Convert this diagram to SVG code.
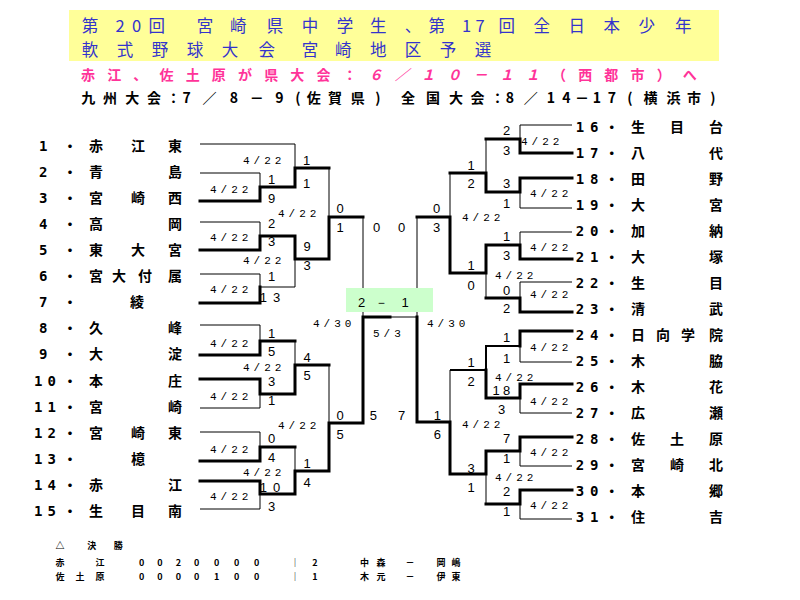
<svg xmlns="http://www.w3.org/2000/svg" width="800" height="600" viewBox="0 0 800 600">
<style>
.th{fill:none;stroke:#000;stroke-width:1}
.md{fill:none;stroke:#000;stroke-width:2}
.tk{fill:none;stroke:#000;stroke-width:3;stroke-linecap:square}
.nm{font-family:"Noto Sans CJK JP",sans-serif;font-size:14px;font-weight:bold;text-anchor:middle;fill:#000}
.no{font-family:"DejaVu Sans Mono",monospace;font-size:14px;font-weight:bold;text-anchor:middle;fill:#000}
.sc{font-family:"Liberation Sans",sans-serif;font-size:13px;text-anchor:middle;fill:#000}
.dt{font-family:"Liberation Mono",monospace;font-size:11px;letter-spacing:4px;fill:#000}
.ti{font-family:"Noto Sans CJK JP",sans-serif;font-size:16.5px;text-anchor:middle;fill:#3333cc}
.pk{font-family:"Noto Sans CJK JP",sans-serif;font-size:14px;font-weight:bold;text-anchor:middle;fill:#ff3399}
.bk{font-family:"Noto Sans CJK JP",sans-serif;font-size:14px;font-weight:bold;text-anchor:middle;fill:#000}
.sm{font-family:"Noto Sans CJK JP",sans-serif;font-size:9px;font-weight:bold;text-anchor:middle;fill:#000}
</style>
<rect width="800" height="600" fill="#fff"/>
<g id="header">
<rect x="69" y="10" width="650" height="51" fill="#ffff99"/>
<text class="ti" x="90 120 136.7 156.7 180 205 238.3 275 310 345 378.3 413 436.7 466.7 480 506.7 541.7 576.7 611.7 646.7 683.3" y="31.5">第20回 宮崎県中学生、第17回全日本少年</text>
<text class="ti" x="90 125 160 195 230 266.7 288 310 343.3 378.3 413 448 483" y="55.5">軟式野球大会 宮崎地区予選</text>
<text class="pk" x="88 114.2 140.3 166.5 192.7 218.8 245 271.2 297.3 323.5 349.7" y="80">赤江、佐土原が県大会：</text>
<text class="pk" font-style="italic" x="375.8 402 428.2 454.3 480.5 506.7 532.8" y="80">６／１０－１１</text>
<text class="pk" x="559 585.2 611.3 637.5 663.7 689.8" y="80">（西都市）へ</text>
<text class="bk" x="88.2 110.1 132.2 154.1 173.6 186.6 209.4 233.8 256.7 279.5 298 313.7 334.9 357.7 378" y="103">九州大会：7／8－9(佐賀県)</text>
<text class="bk" x="408 433 456 477.6 497.6 510 530.7 551 566.5 582 597 612 630 650.6 673.6 694 713" y="103">全国大会：8／14－17(横浜市)</text>
</g>
<g id="connectors">
<path class="th" d="M200,144H295V168 M200,173H260V187 M329,168V217 M200,222H260V236 M200,274H260V287H295V259 M363,217V317 M200,325H260V341 M295,341V365 M200,408H260V394 M329,365V423 M200,432H260V447 M295,447V471 M200,509H260V494"/>
<path class="th" d="M572,125H520V139 M486,139V173 M572,208H520V192 M450,173V217 M572,232H520V245 M572,282H520V298 M486,273V298 M417,217V317H390 M572,362H520V346 M572,413H520V398 M450,370V422 M572,466H520V451 M486,474V504 M572,519H520V504"/>
<path class="md" d="M520,346H486V370H450"/>
<path class="tk" d="M200,201H260V187H295V168H329 M200,250H260V236H295V259H329V217H363 M200,303H260V287 M200,355H260V341H295 M200,379H260V394H295V365H329 M200,461H260V447H295 M200,481H260V494H295V471H329V423H363V317H390"/>
<path class="tk" d="M572,153H520V139H486 M572,178H520V192H486V173H450 M572,259H520V245H486V273H450V217H417 M572,312H520V298H486 M572,331H520V346 M572,384H520V398H486V370 M572,437H520V451H486V474H450V422H417V317 M572,490H520V504H486"/>
</g>
<g id="final-score">
<rect x="346" y="288" width="87" height="24" fill="#ccffcc"/>
<text class="sc" font-size="14" x="361.7 381.7 405" y="306.5">2－1</text>
</g>
<g id="dates">
<text class="dt" x="243" y="164">4/22</text>
<text class="dt" x="210" y="193">4/22</text>
<text class="dt" x="278" y="217">4/22</text>
<text class="dt" x="210" y="241">4/22</text>
<text class="dt" x="243" y="264">4/22</text>
<text class="dt" x="210" y="293">4/22</text>
<text class="dt" x="210" y="347">4/22</text>
<text class="dt" x="243" y="371">4/22</text>
<text class="dt" x="210" y="400">4/22</text>
<text class="dt" x="278" y="429">4/22</text>
<text class="dt" x="210" y="453">4/22</text>
<text class="dt" x="243" y="476">4/22</text>
<text class="dt" x="210" y="500">4/22</text>
<text class="dt" x="313" y="327">4/30</text>
<text class="dt" x="373" y="337">5/3</text>
<text class="dt" x="427" y="327">4/30</text>
<text class="dt" x="521" y="145">4/22</text>
<text class="dt" x="530" y="197">4/22</text>
<text class="dt" x="462" y="221">4/22</text>
<text class="dt" x="530" y="251">4/22</text>
<text class="dt" x="495" y="279">4/22</text>
<text class="dt" x="530" y="298">4/22</text>
<text class="dt" x="530" y="351">4/22</text>
<text class="dt" x="495" y="381">4/22</text>
<text class="dt" x="530" y="405">4/22</text>
<text class="dt" x="462" y="428">4/22</text>
<text class="dt" x="530" y="456">4/22</text>
<text class="dt" x="495" y="481">4/22</text>
<text class="dt" x="530" y="509">4/22</text>
</g>
<g id="scores">
<text class="sc" x="271.7" y="184">1</text>
<text class="sc" x="271.7" y="203">9</text>
<text class="sc" x="306.7" y="164.6">1</text>
<text class="sc" x="306.7" y="188">1</text>
<text class="sc" x="271.7" y="227.6">2</text>
<text class="sc" x="271.7" y="245.6">3</text>
<text class="sc" x="271.7" y="281.3">1</text>
<text class="sc" x="263.3 276.7" y="301.6">13</text>
<text class="sc" x="307" y="251.3">9</text>
<text class="sc" x="307" y="269.6">3</text>
<text class="sc" x="340" y="213">0</text>
<text class="sc" x="340" y="232">1</text>
<text class="sc" x="376.7" y="232">0</text>
<text class="sc" x="401.7" y="232">0</text>
<text class="sc" x="271.7" y="337.6">1</text>
<text class="sc" x="271.7" y="355.6">5</text>
<text class="sc" x="271.7" y="386.3">3</text>
<text class="sc" x="271.7" y="404.6">1</text>
<text class="sc" x="307" y="361.6">4</text>
<text class="sc" x="307" y="380.3">5</text>
<text class="sc" x="271.7" y="442.6">0</text>
<text class="sc" x="271.7" y="461.6">4</text>
<text class="sc" x="263.3 276.7" y="491.6">10</text>
<text class="sc" x="271.7" y="510.6">3</text>
<text class="sc" x="307" y="467.6">1</text>
<text class="sc" x="307" y="486.6">4</text>
<text class="sc" x="340" y="419.6">0</text>
<text class="sc" x="340" y="438.6">5</text>
<text class="sc" x="373.3" y="419.6">5</text>
<text class="sc" x="401.7" y="419.6">7</text>
<text class="sc" x="506.7" y="134.6">2</text>
<text class="sc" x="506.7" y="154.6">3</text>
<text class="sc" x="506.7" y="188">3</text>
<text class="sc" x="506.7" y="208">1</text>
<text class="sc" x="471" y="169.6">1</text>
<text class="sc" x="471" y="187.6">2</text>
<text class="sc" x="436.7" y="212.6">0</text>
<text class="sc" x="436.7" y="231.6">3</text>
<text class="sc" x="506.7" y="241.3">1</text>
<text class="sc" x="506.7" y="259.6">3</text>
<text class="sc" x="506.7" y="294.6">0</text>
<text class="sc" x="506.7" y="313.3">2</text>
<text class="sc" x="471" y="270.3">1</text>
<text class="sc" x="471" y="289.6">0</text>
<text class="sc" x="506.7" y="342.3">1</text>
<text class="sc" x="506.7" y="363.3">1</text>
<text class="sc" x="496 506.5" y="395.3">18</text>
<text class="sc" x="501.7" y="413.9">3</text>
<text class="sc" x="471" y="366.6">1</text>
<text class="sc" x="471" y="385.6">2</text>
<text class="sc" x="437.3" y="419.6">1</text>
<text class="sc" x="437.3" y="438.6">6</text>
<text class="sc" x="506.7" y="443.3">7</text>
<text class="sc" x="506.7" y="462.6">1</text>
<text class="sc" x="506.7" y="495.9">2</text>
<text class="sc" x="506.7" y="515.6">1</text>
<text class="sc" x="471" y="472.6">3</text>
<text class="sc" x="471" y="491.6">1</text>
</g>
<g id="team-1"><text class="no" x="43.3" y="151">1</text><text class="nm" x="70" y="151">・</text><text class="nm" x="96 138 175" y="151">赤江東</text></g>
<g id="team-2"><text class="no" x="43.3" y="177.1">2</text><text class="nm" x="70" y="177.1">・</text><text class="nm" x="96 175" y="177.1">青島</text></g>
<g id="team-3"><text class="no" x="43.3" y="203.1">3</text><text class="nm" x="70" y="203.1">・</text><text class="nm" x="96 138 175" y="203.1">宮崎西</text></g>
<g id="team-4"><text class="no" x="43.3" y="229.2">4</text><text class="nm" x="70" y="229.2">・</text><text class="nm" x="96 175" y="229.2">高岡</text></g>
<g id="team-5"><text class="no" x="43.3" y="255.2">5</text><text class="nm" x="70" y="255.2">・</text><text class="nm" x="96 138 175" y="255.2">東大宮</text></g>
<g id="team-6"><text class="no" x="43.3" y="281.3">6</text><text class="nm" x="70" y="281.3">・</text><text class="nm" x="96 119 145 175" y="281.3">宮大付属</text></g>
<g id="team-7"><text class="no" x="43.3" y="307.3">7</text><text class="nm" x="70" y="307.3">・</text><text class="nm" x="137" y="307.3">綾</text></g>
<g id="team-8"><text class="no" x="43.3" y="333.4">8</text><text class="nm" x="70" y="333.4">・</text><text class="nm" x="96 175" y="333.4">久峰</text></g>
<g id="team-9"><text class="no" x="43.3" y="359.4">9</text><text class="nm" x="70" y="359.4">・</text><text class="nm" x="96 175" y="359.4">大淀</text></g>
<g id="team-10"><text class="no" x="38.3 51.7" y="385.5">10</text><text class="nm" x="70" y="385.5">・</text><text class="nm" x="96 175" y="385.5">本庄</text></g>
<g id="team-11"><text class="no" x="38.3 51.7" y="411.5">11</text><text class="nm" x="70" y="411.5">・</text><text class="nm" x="96 175" y="411.5">宮崎</text></g>
<g id="team-12"><text class="no" x="38.3 51.7" y="437.6">12</text><text class="nm" x="70" y="437.6">・</text><text class="nm" x="96 138 175" y="437.6">宮崎東</text></g>
<g id="team-13"><text class="no" x="38.3 51.7" y="463.6">13</text><text class="nm" x="70" y="463.6">・</text><text class="nm" x="138" y="463.6">檍</text></g>
<g id="team-14"><text class="no" x="38.3 51.7" y="489.7">14</text><text class="nm" x="70" y="489.7">・</text><text class="nm" x="96 175" y="489.7">赤江</text></g>
<g id="team-15"><text class="no" x="38.3 51.7" y="515.7">15</text><text class="nm" x="70" y="515.7">・</text><text class="nm" x="96 138 175" y="515.7">生目南</text></g>
<g id="team-16"><text class="no" x="580 594.3" y="132">16</text><text class="nm" x="611.7" y="132">・</text><text class="nm" x="638 677 716" y="132">生目台</text></g>
<g id="team-17"><text class="no" x="580 594.3" y="158">17</text><text class="nm" x="611.7" y="158">・</text><text class="nm" x="638 716" y="158">八代</text></g>
<g id="team-18"><text class="no" x="580 594.3" y="184">18</text><text class="nm" x="611.7" y="184">・</text><text class="nm" x="638 716" y="184">田野</text></g>
<g id="team-19"><text class="no" x="580 594.3" y="210">19</text><text class="nm" x="611.7" y="210">・</text><text class="nm" x="638 716" y="210">大宮</text></g>
<g id="team-20"><text class="no" x="580 594.3" y="236">20</text><text class="nm" x="611.7" y="236">・</text><text class="nm" x="638 716" y="236">加納</text></g>
<g id="team-21"><text class="no" x="580 594.3" y="262">21</text><text class="nm" x="611.7" y="262">・</text><text class="nm" x="638 716" y="262">大塚</text></g>
<g id="team-22"><text class="no" x="580 594.3" y="288">22</text><text class="nm" x="611.7" y="288">・</text><text class="nm" x="638 716" y="288">生目</text></g>
<g id="team-23"><text class="no" x="580 594.3" y="314">23</text><text class="nm" x="611.7" y="314">・</text><text class="nm" x="638 716" y="314">清武</text></g>
<g id="team-24"><text class="no" x="580 594.3" y="340">24</text><text class="nm" x="611.7" y="340">・</text><text class="nm" x="638 663 688 716" y="340">日向学院</text></g>
<g id="team-25"><text class="no" x="580 594.3" y="366">25</text><text class="nm" x="611.7" y="366">・</text><text class="nm" x="638 716" y="366">木脇</text></g>
<g id="team-26"><text class="no" x="580 594.3" y="392">26</text><text class="nm" x="611.7" y="392">・</text><text class="nm" x="638 716" y="392">木花</text></g>
<g id="team-27"><text class="no" x="580 594.3" y="418">27</text><text class="nm" x="611.7" y="418">・</text><text class="nm" x="638 716" y="418">広瀬</text></g>
<g id="team-28"><text class="no" x="580 594.3" y="444">28</text><text class="nm" x="611.7" y="444">・</text><text class="nm" x="638 677 716" y="444">佐土原</text></g>
<g id="team-29"><text class="no" x="580 594.3" y="470">29</text><text class="nm" x="611.7" y="470">・</text><text class="nm" x="638 677 716" y="470">宮崎北</text></g>
<g id="team-30"><text class="no" x="580 594.3" y="496">30</text><text class="nm" x="611.7" y="496">・</text><text class="nm" x="638 716" y="496">本郷</text></g>
<g id="team-31"><text class="no" x="580 594.3" y="522">31</text><text class="nm" x="611.7" y="522">・</text><text class="nm" x="638 716" y="522">住吉</text></g>
<g id="final-linescore">
<text class="sm" x="60 91.7 118.3" y="549">△決勝</text>
<text class="sm" x="60 100" y="566">赤江</text>
<text class="sm" x="141.7 160 178.3 196.7 216.7 236.7 256.7" y="566">0020000</text>
<text class="sm" x="295 315" y="566">｜2</text>
<text class="sm" x="364.5 381 410 441 456" y="566">中森－岡嶋</text>
<text class="sm" x="60 80 100" y="580">佐土原</text>
<text class="sm" x="141.7 160 178.3 196.7 216.7 236.7 256.7" y="580">0000100</text>
<text class="sm" x="295 315" y="580">｜1</text>
<text class="sm" x="364.5 381 410 441 456" y="580">木元－伊東</text>
</g>
</svg>
